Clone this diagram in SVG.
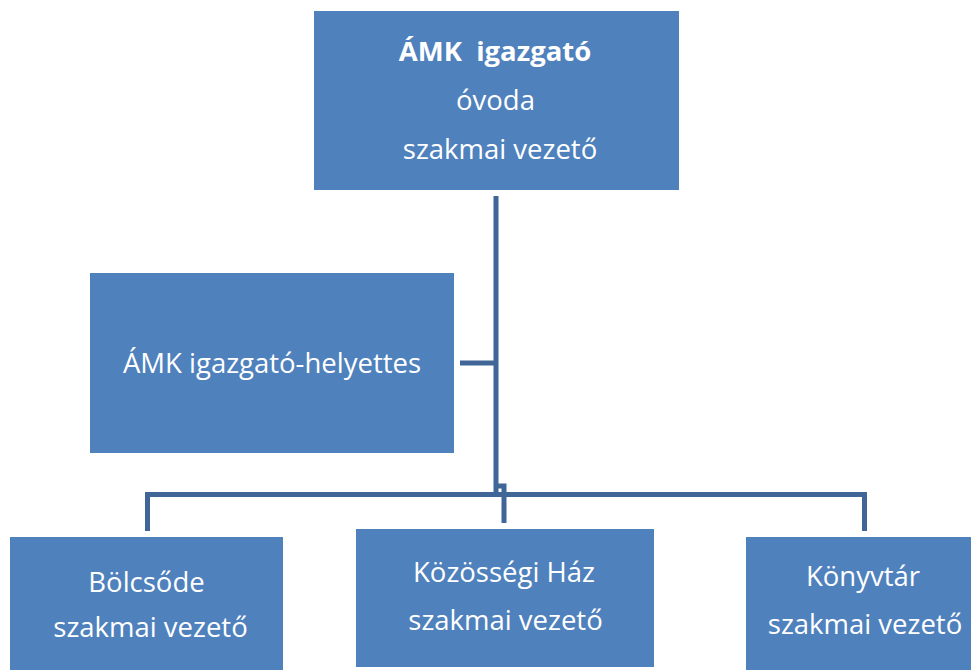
<svg xmlns="http://www.w3.org/2000/svg" width="971" height="670" viewBox="0 0 971 670">
<style>
.box{fill:#4F81BD;}
.t{fill:#FFFFFF;font-family:"Open Sans","Noto Sans",sans-serif;font-size:27.5px;text-anchor:middle;}
.b{font-weight:bold;}
.c{fill:none;stroke:#406698;stroke-width:5;}
</style>
<rect width="971" height="670" fill="#FFFFFF"/>
<g id="connectors">
<path class="c" d="M496,196 V495"/>
<path class="c" d="M460,363 H496"/>
<path class="c" d="M147.5,531 V494.5 H864.5 V531"/>
<path class="c" d="M496,486 H504 V523"/>
</g>
<g id="node-igazgato">
<rect class="box" x="314" y="11" width="365" height="179"/>
<text class="t b" x="495" y="61" xml:space="preserve">ÁMK  igazgató</text>
<text class="t" x="495.5" y="110">óvoda</text>
<text class="t" x="500" y="159">szakmai vezető</text>
</g>
<g id="node-helyettes">
<rect class="box" x="90" y="273" width="364" height="180"/>
<text class="t" x="272" y="373">ÁMK igazgató-helyettes</text>
</g>
<g id="node-bolcsode">
<rect class="box" x="10" y="537" width="273" height="140"/>
<text class="t" x="146.5" y="592">Bölcsőde</text>
<text class="t" x="150.5" y="637">szakmai vezető</text>
</g>
<g id="node-kozossegi">
<rect class="box" x="356" y="529" width="298" height="138"/>
<text class="t" x="504" y="582">Közösségi Ház</text>
<text class="t" x="505.5" y="630">szakmai vezető</text>
</g>
<g id="node-konyvtar">
<rect class="box" x="746" y="537" width="240" height="140"/>
<text class="t" x="863" y="586">Könyvtár</text>
<text class="t" x="865" y="634">szakmai vezető</text>
</g>
</svg>
